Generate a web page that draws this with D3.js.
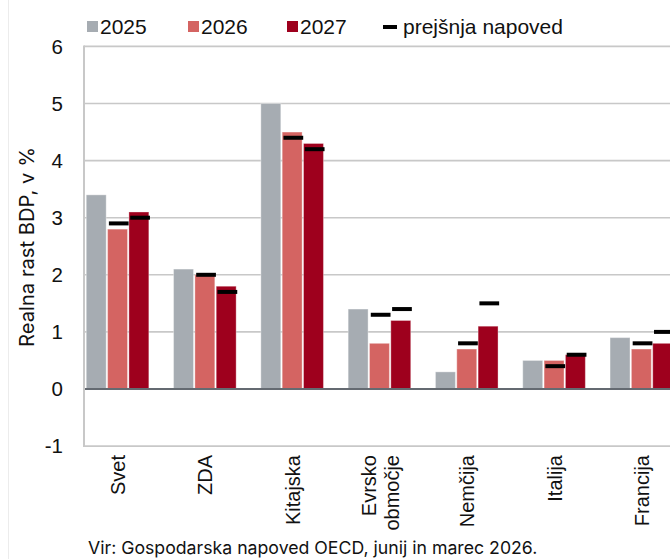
<!DOCTYPE html>
<html><head><meta charset="utf-8">
<script src="https://cdn.jsdelivr.net/npm/d3@7"></script>
<style>html,body{margin:0;padding:0;background:#fff;}svg{display:block;}</style>
</head><body>
<svg id="chart" width="670" height="559"></svg>
<script>
const categories = ["Svet","ZDA","Kitajska","Evrsko območje","Nemčija","Italija","Francija"];
const categoryLines = [["Svet"],["ZDA"],["Kitajska"],["Evrsko","območje"],["Nemčija"],["Italija"],["Francija"]];
const series = ["2025","2026","2027"];
const values2025 = [3.4,2.1,5.0,1.4,0.3,0.5,0.9];
const values2026 = [2.8,2.0,4.5,0.8,0.7,0.5,0.7];
const values2027 = [3.1,1.8,4.3,1.2,1.1,0.6,0.8];
const prev2026 = [2.9,2.0,4.4,1.3,0.8,0.4,0.8];
const prev2027 = [3.0,1.7,4.2,1.4,1.5,0.6,1.0];
const yTicks = [-1,0,1,2,3,4,5,6];
const colors = {"2025":"#a6acb2","2026":"#d46462","2027":"#9e001d"};
const legendLabelPrev = "prejšnja napoved";
const yTitle = "Realna rast BDP, v %";
const sourceText = "Vir: Gospodarska napoved OECD, junij in marec 2026.";

const svg = d3.select("#chart");
const FONT = "'Liberation Sans', Arial, sans-serif";
const FONT2 = "Inter, 'Liberation Sans', sans-serif";
const plotLeft = 84, plotRight = 700;

const y = d3.scaleLinear().domain([-1,6]).range([446.1,46.4]);
const x = d3.scaleBand().domain(categories).range([74.3,685.4]).paddingInner(0.267).paddingOuter(0.1335);
const xs = d3.scaleBand().domain(series).range([0,x.bandwidth()]);

function fitText(sel, target){
  const len = sel.node().getComputedTextLength();
  const fs = parseFloat(sel.attr("font-size"));
  if (len > 0) sel.attr("font-size", (fs*target/len).toFixed(2));
}

// faint page border
svg.append("line").attr("x1",8.5).attr("x2",8.5).attr("y1",0).attr("y2",559).attr("stroke","#ececec").attr("stroke-width",1);

// gridlines
const grid = svg.append("g");
grid.selectAll("line").data(yTicks.filter(t=>t>0)).join("line")
  .attr("x1",plotLeft).attr("x2",plotRight)
  .attr("y1",d=>y(d)).attr("y2",d=>y(d))
  .attr("stroke","#c8c8c8").attr("stroke-width",1.6);
// bottom border
svg.append("line").attr("x1",plotLeft-1).attr("x2",plotRight).attr("y1",y(-1)).attr("y2",y(-1)).attr("stroke","#c8c8c8").attr("stroke-width",1.6);

// bars
const seriesVals = {"2025":values2025,"2026":values2026,"2027":values2027};
const prevVals = {"2026":prev2026,"2027":prev2027};
const barData = [];
series.forEach(s=>categories.forEach((c,i)=>barData.push({c,s,v:seriesVals[s][i]})));
svg.append("g").selectAll("rect").data(barData).join("rect")
  .attr("x",d=>x(d.c)+xs(d.s)+0.3)
  .attr("width",xs.bandwidth()-1.4)
  .attr("y",d=>Math.min(y(d.v),y(0)))
  .attr("height",d=>Math.abs(y(0)-y(d.v)))
  .attr("fill",d=>colors[d.s])
  .attr("stroke","#ffffff").attr("stroke-opacity",0.35).attr("stroke-width",1);

// zero line & left axis line
svg.append("line").attr("x1",plotLeft).attr("x2",plotRight).attr("y1",y(0)).attr("y2",y(0)).attr("stroke","#646a71").attr("stroke-width",2);
svg.append("line").attr("x1",plotLeft).attr("x2",plotLeft).attr("y1",y(6)-0.8).attr("y2",y(-1)+0.8).attr("stroke","#c8c8c8").attr("stroke-width",2);

// previous forecast markers
const prevData = [];
["2026","2027"].forEach(s=>categories.forEach((c,i)=>prevData.push({c,s,v:prevVals[s][i]})));
svg.append("g").selectAll("rect").data(prevData).join("rect")
  .attr("x",d=>x(d.c)+xs(d.s)+1.6)
  .attr("width",xs.bandwidth()-1.6)
  .attr("y",d=>y(d.v)-2)
  .attr("height",4)
  .attr("fill","#000");

// y axis tick labels
svg.append("g").selectAll("text").data(yTicks).join("text")
  .attr("x",63).attr("y",d=>y(d)).attr("dy","0.36em")
  .attr("text-anchor","end").attr("font-family",FONT).attr("font-size",20.5).attr("fill","#111")
  .text(d=>d);

// y title
const yt = svg.append("text").attr("transform","translate(34,247) rotate(-90)")
  .attr("text-anchor","middle").attr("font-family",FONT2).attr("font-size",19).attr("fill","#111")
  .text(yTitle);
fitText(yt, 200);

// x labels
const xl = svg.append("g");
categories.forEach((c,i)=>{
  const lines = categoryLines[i];
  const cx = x(c)+x.bandwidth()/2;
  const n = lines.length;
  lines.forEach((ln,j)=>{
    const off = (j-(n-1)/2)*23;
    xl.append("text").attr("transform",`translate(${cx+off},455) rotate(-90)`)
      .attr("text-anchor","end").attr("dy","0.36em")
      .attr("font-family",FONT).attr("font-size",20).attr("fill","#111").text(ln);
  });
});

// legend
const legendItems = [{k:"2025",x:87},{k:"2026",x:188},{k:"2027",x:287}];
const lg = svg.append("g");
legendItems.forEach(it=>{
  lg.append("rect").attr("x",it.x).attr("y",21).attr("width",11).attr("height",11).attr("fill",colors[it.k]);
  lg.append("text").attr("x",it.x+13).attr("y",34).attr("font-family",FONT).attr("font-size",21).attr("fill","#111").text(it.k);
});
lg.append("rect").attr("x",383).attr("y",25).attr("width",14).attr("height",4).attr("fill","#000");
const lt = lg.append("text").attr("x",403).attr("y",34).attr("font-family",FONT).attr("font-size",21).attr("fill","#111").text(legendLabelPrev);
fitText(lt, 160);

// source
const st = svg.append("text").attr("x",88).attr("y",554).attr("font-family",FONT2).attr("font-size",17).attr("fill","#111").text(sourceText);
fitText(st, 450);
</script>
</body></html>
